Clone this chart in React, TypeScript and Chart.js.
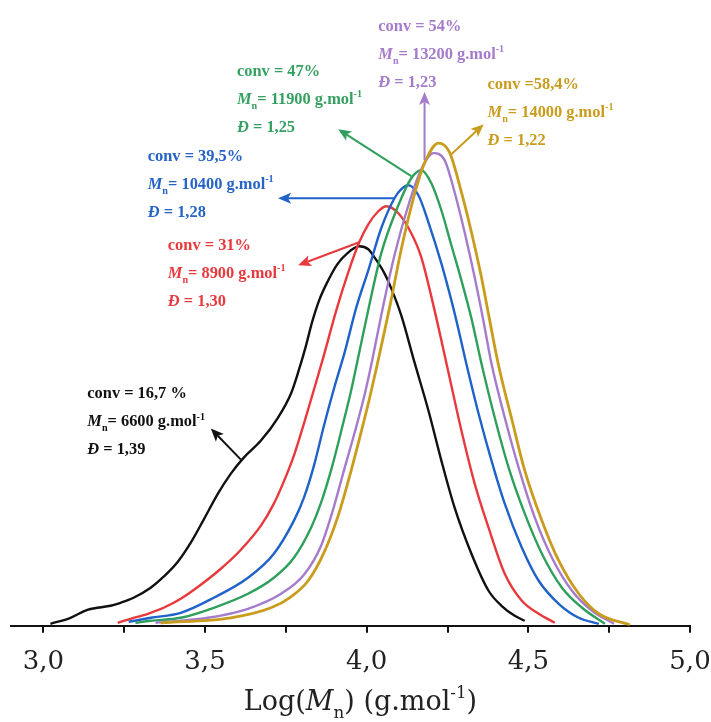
import React, { useEffect, useRef } from "react";
import { Chart, registerables } from "chart.js";

Chart.register(...registerables);

// ---- Data (log Mn vs normalised signal) ----
const logM_167 = [3.022, 3.084, 3.136, 3.167, 3.208, 3.239, 3.279, 3.332, 3.372, 3.416, 3.456, 3.496, 3.540, 3.580, 3.620, 3.673, 3.726, 3.766, 3.788, 3.810, 3.831, 3.853, 3.878, 3.909, 3.940, 3.977, 4.005, 4.024, 4.055, 4.076, 4.107, 4.148, 4.191, 4.231, 4.272, 4.324, 4.377, 4.417, 4.458, 4.489];
const w_167 = [0.004, 0.016, 0.032, 0.036, 0.040, 0.046, 0.056, 0.076, 0.098, 0.128, 0.166, 0.212, 0.264, 0.304, 0.336, 0.370, 0.416, 0.464, 0.506, 0.554, 0.606, 0.650, 0.686, 0.722, 0.744, 0.758, 0.752, 0.736, 0.704, 0.674, 0.620, 0.526, 0.430, 0.330, 0.236, 0.144, 0.070, 0.040, 0.020, 0.010];

const logM_31 = [3.230, 3.270, 3.323, 3.372, 3.425, 3.487, 3.549, 3.611, 3.673, 3.713, 3.741, 3.775, 3.806, 3.837, 3.865, 3.906, 3.943, 3.977, 4.005, 4.036, 4.061, 4.098, 4.138, 4.169, 4.210, 4.253, 4.293, 4.334, 4.377, 4.427, 4.480, 4.532, 4.582];
const w_31 = [0.006, 0.014, 0.024, 0.036, 0.054, 0.082, 0.114, 0.152, 0.200, 0.244, 0.284, 0.340, 0.404, 0.472, 0.534, 0.630, 0.706, 0.766, 0.802, 0.828, 0.838, 0.824, 0.784, 0.736, 0.630, 0.506, 0.390, 0.284, 0.196, 0.104, 0.050, 0.024, 0.006];

const logM_395 = [3.264, 3.332, 3.425, 3.527, 3.633, 3.713, 3.775, 3.806, 3.837, 3.868, 3.899, 3.931, 3.968, 4.005, 4.045, 4.086, 4.107, 4.129, 4.160, 4.191, 4.231, 4.262, 4.284, 4.303, 4.346, 4.386, 4.427, 4.480, 4.532, 4.594, 4.656, 4.718];
const w_395 = [0.008, 0.016, 0.026, 0.056, 0.096, 0.144, 0.210, 0.256, 0.320, 0.400, 0.474, 0.544, 0.636, 0.710, 0.794, 0.854, 0.872, 0.880, 0.860, 0.806, 0.724, 0.650, 0.592, 0.538, 0.424, 0.330, 0.244, 0.156, 0.090, 0.044, 0.016, 0.004];

const logM_47 = [3.285, 3.332, 3.425, 3.527, 3.633, 3.713, 3.775, 3.828, 3.859, 3.893, 3.924, 3.952, 3.977, 4.008, 4.045, 4.098, 4.138, 4.169, 4.200, 4.231, 4.262, 4.293, 4.324, 4.355, 4.396, 4.439, 4.489, 4.542, 4.604, 4.666, 4.737];
const w_47 = [0.006, 0.010, 0.016, 0.036, 0.064, 0.096, 0.136, 0.196, 0.246, 0.318, 0.396, 0.470, 0.546, 0.640, 0.744, 0.840, 0.894, 0.910, 0.884, 0.830, 0.760, 0.690, 0.614, 0.524, 0.416, 0.316, 0.224, 0.144, 0.076, 0.036, 0.004];

const logM_54 = [3.347, 3.509, 3.633, 3.735, 3.806, 3.859, 3.896, 3.927, 3.962, 3.993, 4.017, 4.045, 4.086, 4.129, 4.169, 4.207, 4.241, 4.272, 4.303, 4.334, 4.362, 4.386, 4.427, 4.470, 4.520, 4.573, 4.635, 4.697, 4.765];
const w_54 = [0.006, 0.016, 0.034, 0.064, 0.102, 0.160, 0.232, 0.304, 0.384, 0.460, 0.530, 0.620, 0.740, 0.840, 0.912, 0.944, 0.930, 0.866, 0.786, 0.696, 0.606, 0.524, 0.416, 0.316, 0.216, 0.136, 0.070, 0.030, 0.004];

const logM_584 = [3.363, 3.580, 3.704, 3.766, 3.819, 3.868, 3.912, 3.946, 3.977, 4.008, 4.030, 4.051, 4.073, 4.107, 4.148, 4.179, 4.222, 4.256, 4.293, 4.324, 4.355, 4.377, 4.408, 4.449, 4.489, 4.542, 4.594, 4.656, 4.718, 4.814];
const w_584 = [0.006, 0.016, 0.036, 0.058, 0.090, 0.146, 0.220, 0.296, 0.372, 0.452, 0.514, 0.576, 0.642, 0.752, 0.862, 0.924, 0.964, 0.946, 0.866, 0.786, 0.696, 0.622, 0.520, 0.412, 0.310, 0.210, 0.130, 0.064, 0.024, 0.002];

const X_TICKS = [3.0, 3.25, 3.5, 3.75, 4.0, 4.25, 4.5, 4.75, 5.0];

const CONV_LABELS = ["conv = 16,7 %", "conv = 31%", "conv = 39,5%", "conv = 47%", "conv = 54%", "conv =58,4%"];
const MN_VALUES = ["6600", "8900", "10400", "11900", "13200", "14000"];
const DISPERSITY = ["1,39", "1,30", "1,28", "1,25", "1,23", "1,22"];

// ---- styling / annotation placement ----
const COLORS = ["#111111", "#e8393d", "#1f62c8", "#2f9f5c", "#a57bcc", "#c99c1d"];
const TEXT_COLORS = ["#111111", "#e8393d", "#2563c6", "#36a063", "#a57bcc", "#c99c1d"];
// arrow: [fromX, fromY, toX, toY] in data units
const ARROWS = [
  [3.611, 0.332, 3.518, 0.394],
  [3.977, 0.766, 3.788, 0.720],
  [4.086, 0.854, 3.726, 0.854],
  [4.138, 0.898, 3.912, 0.992],
  [4.179, 0.930, 4.179, 1.066],
  [4.262, 0.942, 4.362, 1.002],
];
// text anchor (left, first baseline) in data units
const TEXT_POS = [
  [3.136, 0.454],
  [3.385, 0.750],
  [3.323, 0.928],
  [3.599, 1.098],
  [4.036, 1.188],
  [4.374, 1.072],
];

type Seg = { t: string; s?: "i" | "sub" | "sup" };

function segWidth(ctx: CanvasRenderingContext2D, segs: Seg[], size: number, family: string, weight: string) {
  let w = 0;
  for (const sg of segs) {
    const fs = sg.s === "sub" || sg.s === "sup" ? size * 0.62 : size;
    ctx.font = `${sg.s === "i" ? "italic " : ""}${weight} ${fs}px ${family}`;
    w += ctx.measureText(sg.t).width;
  }
  return w;
}

function drawSegs(ctx: CanvasRenderingContext2D, x: number, y: number, segs: Seg[], size: number, family: string, weight: string, color: string) {
  let cx = x;
  ctx.fillStyle = color;
  ctx.textBaseline = "alphabetic";
  ctx.textAlign = "left";
  for (const sg of segs) {
    let fs = size;
    let dy = 0;
    if (sg.s === "sub") { fs = size * 0.62; dy = size * 0.3; }
    if (sg.s === "sup") { fs = size * 0.62; dy = -size * 0.42; }
    ctx.font = `${sg.s === "i" ? "italic " : ""}${weight} ${fs}px ${family}`;
    ctx.fillText(sg.t, cx, y + dy);
    cx += ctx.measureText(sg.t).width;
  }
}

function drawArrow(ctx: CanvasRenderingContext2D, x1: number, y1: number, x2: number, y2: number, color: string) {
  const ang = Math.atan2(y2 - y1, x2 - x1);
  const head = 13;
  const half = 5.5;
  const bx = x2 - head * Math.cos(ang);
  const by = y2 - head * Math.sin(ang);
  ctx.strokeStyle = color;
  ctx.fillStyle = color;
  ctx.lineWidth = 2;
  ctx.beginPath();
  ctx.moveTo(x1, y1);
  ctx.lineTo(bx + 3 * Math.cos(ang), by + 3 * Math.sin(ang));
  ctx.stroke();
  ctx.beginPath();
  ctx.moveTo(x2, y2);
  ctx.lineTo(bx - half * Math.sin(ang), by + half * Math.cos(ang));
  ctx.lineTo(bx + 3 * Math.cos(ang), by + 3 * Math.sin(ang));
  ctx.lineTo(bx + half * Math.sin(ang), by - half * Math.cos(ang));
  ctx.closePath();
  ctx.fill();
}

const annotationPlugin = {
  id: "gpcAnnotations",
  afterDatasetsDraw(chart: any) {
    const { ctx, scales } = chart;
    const xs = scales.x;
    const ys = scales.y;
    ctx.save();
    const fam = "'Liberation Serif', serif";
    const fs = 16.4;
    for (let i = 0; i < ARROWS.length; i++) {
      const a = ARROWS[i];
      drawArrow(ctx, xs.getPixelForValue(a[0]), ys.getPixelForValue(a[1]), xs.getPixelForValue(a[2]), ys.getPixelForValue(a[3]), COLORS[i]);
      const tx = xs.getPixelForValue(TEXT_POS[i][0]);
      const ty = ys.getPixelForValue(TEXT_POS[i][1]);
      const col = TEXT_COLORS[i];
      drawSegs(ctx, tx, ty, [{ t: CONV_LABELS[i] }], fs, fam, "bold", col);
      drawSegs(ctx, tx, ty + 28, [{ t: "M", s: "i" }, { t: "n", s: "sub" }, { t: "= " + MN_VALUES[i] + " g.mol" }, { t: "-1", s: "sup" }], fs, fam, "bold", col);
      drawSegs(ctx, tx, ty + 56, [{ t: "Đ", s: "i" }, { t: " = " + DISPERSITY[i] }], fs, fam, "bold", col);
    }
    // axis title
    const title: Seg[] = [{ t: "Log(" }, { t: "M", s: "i" }, { t: "n", s: "sub" }, { t: ") (g.mol" }, { t: "-1", s: "sup" }, { t: ")" }];
    const tfam = "'DejaVu Serif', serif";
    const tw = segWidth(ctx, title, 27, tfam, "normal");
    const cx = (chart.chartArea.left + chart.chartArea.right) / 2 + 10;
    drawSegs(ctx, cx - tw / 2, chart.chartArea.bottom + 84, title, 27, tfam, "normal", "#222222");
    ctx.restore();
  },
};

function toPoints(xs: number[], ys: number[]) {
  return xs.map((x, i) => ({ x, y: ys[i] }));
}

export default function App() {
  const ref = useRef<HTMLCanvasElement>(null);
  useEffect(() => {
    if (!ref.current) return;
    const series = [
      [logM_167, w_167],
      [logM_31, w_31],
      [logM_395, w_395],
      [logM_47, w_47],
      [logM_54, w_54],
      [logM_584, w_584],
    ];
    const chart = new Chart(ref.current, {
      type: "line",
      data: {
        datasets: series.map((s, i) => ({
          label: CONV_LABELS[i],
          data: toPoints(s[0], s[1]),
          borderColor: COLORS[i],
          borderWidth: i === 5 ? 2.8 : 2.4,
          pointRadius: 0,
          fill: false,
          cubicInterpolationMode: "monotone" as const,
          order: 6 - i,
        })),
      },
      options: {
        animation: false,
        responsive: true,
        maintainAspectRatio: false,
        layout: { padding: { left: 11, right: 21, top: 25, bottom: 30 } },
        plugins: { legend: { display: false }, tooltip: { enabled: false } },
        scales: {
          x: {
            type: "linear",
            min: 2.9,
            max: 5.0,
            afterBuildTicks: (s: any) => {
              s.ticks = X_TICKS.map((v) => ({ value: v }));
            },
            afterFit: (s: any) => {
              s.paddingLeft = 0;
              s.paddingRight = 0;
            },
            ticks: {
              autoSkip: false,
              maxRotation: 0,
              padding: 14,
              color: "#222222",
              font: { family: "'DejaVu Serif', serif", size: 26 },
              callback: (v: any) => {
                const n = Number(v);
                return Math.abs(n * 2 - Math.round(n * 2)) < 1e-6 ? n.toFixed(1).replace(".", ",") : "";
              },
            },
            grid: { drawOnChartArea: false, drawTicks: true, tickLength: 7, color: "#111111", lineWidth: 2 },
            border: { display: true, color: "#111111", width: 2 },
          },
          y: { display: false, min: 0, max: 1.2 },
        },
      },
      plugins: [annotationPlugin],
    });
    return () => chart.destroy();
  }, []);
  return (
    <div style={{ position: "fixed", left: 0, top: 0, width: 711, height: 722, background: "#ffffff" }}>
      <canvas ref={ref} style={{ display: "block" }} />
    </div>
  );
}
